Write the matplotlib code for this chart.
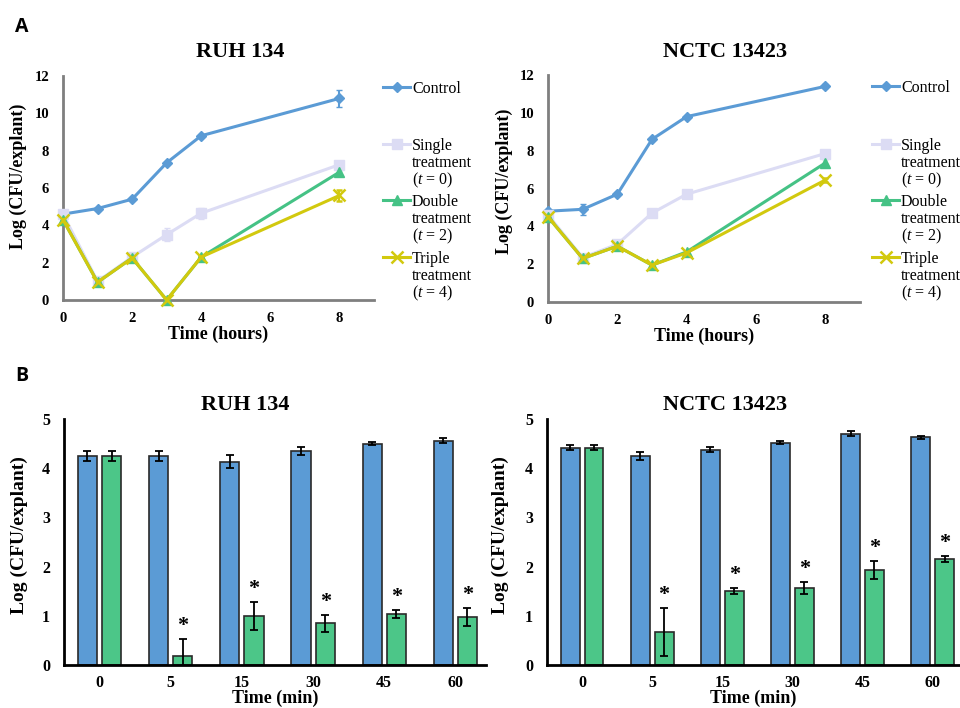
import matplotlib
matplotlib.use("Agg")
import matplotlib.pyplot as plt
from matplotlib.lines import Line2D
import numpy as np

plt.rcParams['font.family'] = ['Liberation Serif', 'DejaVu Serif']
plt.rcParams['mathtext.fontset'] = 'custom'
plt.rcParams['mathtext.rm'] = 'Liberation Serif'
plt.rcParams['mathtext.it'] = 'Liberation Serif:italic'

# ---------------- Data: panel A ----------------
hours = [0, 1, 2, 3, 4, 8]
ruh_control = [4.6, 4.9, 5.4, 7.35, 8.8, 10.8]
ruh_control_err = [0.05, 0.05, 0.05, 0.05, 0.05, 0.45]
ruh_single = [4.6, 1.0, 2.3, 3.5, 4.65, 7.25]
ruh_single_err = [0.05, 0.05, 0.05, 0.35, 0.3, 0.1]
ruh_double = [4.3, 0.95, 2.25, 0.0, 2.3, 6.85]
ruh_double_err = [0.05, 0.05, 0.05, 0.0, 0.05, 0.1]
ruh_triple = [4.3, 0.95, 2.25, 0.0, 2.3, 5.6]
ruh_triple_err = [0.05, 0.05, 0.05, 0.0, 0.05, 0.3]

nctc_control = [4.8, 4.9, 5.7, 8.6, 9.8, 11.4]
nctc_control_err = [0.05, 0.3, 0.05, 0.05, 0.05, 0.1]
nctc_single = [4.6, 2.35, 3.05, 4.7, 5.7, 7.85]
nctc_single_err = [0.05, 0.05, 0.05, 0.05, 0.05, 0.15]
nctc_double = [4.5, 2.3, 2.95, 1.95, 2.65, 7.35]
nctc_double_err = [0.05, 0.05, 0.05, 0.05, 0.05, 0.2]
nctc_triple = [4.5, 2.3, 2.95, 1.95, 2.6, 6.45]
nctc_triple_err = [0.05, 0.05, 0.05, 0.05, 0.05, 0.1]

series_labels = [['Control'],
                 ['Single', 'treatment', '($\\it{t}$ = 0)'],
                 ['Double', 'treatment', '($\\it{t}$ = 2)'],
                 ['Triple', 'treatment', '($\\it{t}$ = 4)']]

# ---------------- Data: panel B ----------------
minutes = ['0', '5', '15', '30', '45', '60']
ruh_bar_ctrl = [4.25, 4.25, 4.13, 4.35, 4.50, 4.56]
ruh_bar_ctrl_err = [0.10, 0.10, 0.13, 0.08, 0.03, 0.05]
ruh_bar_trt = [4.25, 0.18, 1.00, 0.85, 1.04, 0.98]
ruh_bar_trt_err = [0.10, 0.34, 0.29, 0.17, 0.08, 0.18]

nctc_bar_ctrl = [4.42, 4.25, 4.38, 4.52, 4.70, 4.63]
nctc_bar_ctrl_err = [0.05, 0.08, 0.05, 0.03, 0.05, 0.03]
nctc_bar_trt = [4.42, 0.67, 1.50, 1.57, 1.93, 2.16]
nctc_bar_trt_err = [0.05, 0.48, 0.06, 0.12, 0.18, 0.06]
significant = [False, True, True, True, True, True]

# ---------------- Styles ----------------
c_ctrl = '#5B9BD5'
c_single = '#DCDCF4'
c_double = '#45C285'
c_triple = '#D2C90E'
bar_blue = '#5B9BD5'
bar_green = '#4CC688'

styles = [
    dict(color=c_ctrl, marker='D', ms=5, mew=1),
    dict(color=c_single, marker='s', ms=7, mew=1),
    dict(color=c_double, marker='^', ms=7, mew=1),
    dict(color=c_triple, marker='x', ms=8, mew=1.8),
]

fig = plt.figure(figsize=(9.6, 7.08), dpi=100)
W, H = 960.0, 708.0


def ax_rect(x0, x1, ytop, ybot):
    return [x0 / W, 1 - ybot / H, (x1 - x0) / W, (ybot - ytop) / H]


def line_panel(rect, data, title, title_xy, leg_x, leg_ys, ylab_y, ylab_off):
    ax = fig.add_axes(rect)
    for (y, e), st in zip(data, styles):
        ax.errorbar(hours, y, yerr=e, color=st['color'], lw=2.2, marker=st['marker'],
                    ms=st['ms'], mew=st['mew'], mec=st['color'], mfc=st['color'],
                    capsize=2.5, elinewidth=1.5, capthick=1.5, clip_on=False, zorder=3)
    ax.set_xlim(0, 9)
    ax.set_ylim(0, 12)
    ax.set_xticks([0, 2, 4, 6, 8])
    ax.set_yticks(range(0, 13, 2))
    for s in ['top', 'right']:
        ax.spines[s].set_visible(False)
    for s in ['left', 'bottom']:
        ax.spines[s].set_color('#7F7F7F')
        ax.spines[s].set_linewidth(2)
    ax.tick_params(length=0)
    ax.tick_params(axis='x', pad=9)
    ax.tick_params(axis='y', pad=10)
    for lab in ax.get_xticklabels() + ax.get_yticklabels():
        lab.set_fontweight('bold')
        lab.set_fontsize(10.5)
    ax.set_xlabel('Time (hours)', fontsize=13, fontweight='bold', labelpad=0)
    ax.set_ylabel('Log (CFU/explant)', fontsize=13, fontweight='bold')
    ax.yaxis.set_label_coords(-ylab_off / (rect[2] * W), ylab_y)
    fig.text(title_xy[0] / W, 1 - title_xy[1] / H, title, ha='center', va='center',
             fontsize=16, fontweight='bold')
    # legend (drawn line by line)
    for lines, st, yy in zip(series_labels, styles, leg_ys):
        yf = 1 - yy / H
        fig.add_artist(Line2D([leg_x / W, (leg_x + 27) / W], [yf, yf], color=st['color'], lw=2.2))
        fig.add_artist(Line2D([(leg_x + 13.5) / W], [yf], color=st['color'], marker=st['marker'],
                              ms=st['ms'], mew=st['mew'], mfc=st['color'], mec=st['color']))
        for k, txt in enumerate(lines):
            fig.text((leg_x + 29) / W, 1 - (yy + 16.7 * k) / H, txt, ha='left',
                     va='center_baseline', fontsize=11.5)
    return ax


line_panel(ax_rect(63, 374, 76, 300),
           [(ruh_control, ruh_control_err), (ruh_single, ruh_single_err),
            (ruh_double, ruh_double_err), (ruh_triple, ruh_triple_err)],
           'RUH 134', (240, 52), 383, [87, 144, 200, 257], 0.55, 36)

line_panel(ax_rect(548, 860, 75, 302),
           [(nctc_control, nctc_control_err), (nctc_single, nctc_single_err),
            (nctc_double, nctc_double_err), (nctc_triple, nctc_triple_err)],
           'NCTC 13423', (725, 52), 872, [86, 144, 200, 257], 0.53, 35)


def bar_panel(rect, xlim_right, ctrl, ctrl_e, trt, trt_e, title, title_xy, ylab_off):
    ax = fig.add_axes(rect)
    x = np.arange(len(minutes))
    w = 0.27
    off = 0.17
    ek = dict(elinewidth=1.3, capsize=3, capthick=1.3, ecolor='black')
    ax.bar(x - off, ctrl, w, yerr=ctrl_e, color=bar_blue, edgecolor='#2a2a2a', lw=1.2,
           error_kw=ek, zorder=2)
    ax.bar(x + off, trt, w, yerr=trt_e, color=bar_green, edgecolor='#2a2a2a', lw=1.2,
           error_kw=ek, zorder=2)
    for xi, v, e, sig in zip(x, trt, trt_e, significant):
        if sig:
            ax.text(xi + off, v + e + 0.06, '*', ha='center', va='bottom', fontsize=16,
                    fontweight='bold')
    ax.set_xlim(-0.5, xlim_right)
    ax.set_ylim(0, 5)
    ax.set_xticks(x)
    ax.set_xticklabels(minutes)
    ax.set_yticks(range(0, 6))
    for s in ['top', 'right']:
        ax.spines[s].set_visible(False)
    for s in ['left', 'bottom']:
        ax.spines[s].set_color('black')
        ax.spines[s].set_linewidth(2)
    ax.tick_params(length=0)
    ax.tick_params(axis='x', pad=7)
    ax.tick_params(axis='y', pad=10)
    for lab in ax.get_xticklabels() + ax.get_yticklabels():
        lab.set_fontweight('bold')
        lab.set_fontsize(11.5)
    ax.set_xlabel('Time (min)', fontsize=13, fontweight='bold')
    ax.xaxis.label.set_va('baseline')
    ax.xaxis.set_label_coords(0.5, -(703 - 665) / 246.0)
    ax.set_ylabel('Log (CFU/explant)', fontsize=14, fontweight='bold')
    ax.yaxis.set_label_coords(-ylab_off / (rect[2] * W), 0.53)
    fig.text(title_xy[0] / W, 1 - title_xy[1] / H, title, ha='center', va='center',
             fontsize=16, fontweight='bold')
    return ax


bar_panel(ax_rect(64, 486, 419, 665), 5.43, ruh_bar_ctrl, ruh_bar_ctrl_err,
          ruh_bar_trt, ruh_bar_trt_err, 'RUH 134', (245, 405), 36)
bar_panel(ax_rect(547, 960, 419, 665), 5.39, nctc_bar_ctrl, nctc_bar_ctrl_err,
          nctc_bar_trt, nctc_bar_trt_err, 'NCTC 13423', (725, 405), 38)

fig.text(22 / W, 1 - 27 / H, 'A', fontsize=14, fontweight='bold', family='Open Sans',
         ha='center', va='center')
fig.text(22 / W, 1 - 376 / H, 'B', fontsize=14, fontweight='bold', family='Open Sans',
         ha='center', va='center')

fig.savefig('out.png', dpi=100)
